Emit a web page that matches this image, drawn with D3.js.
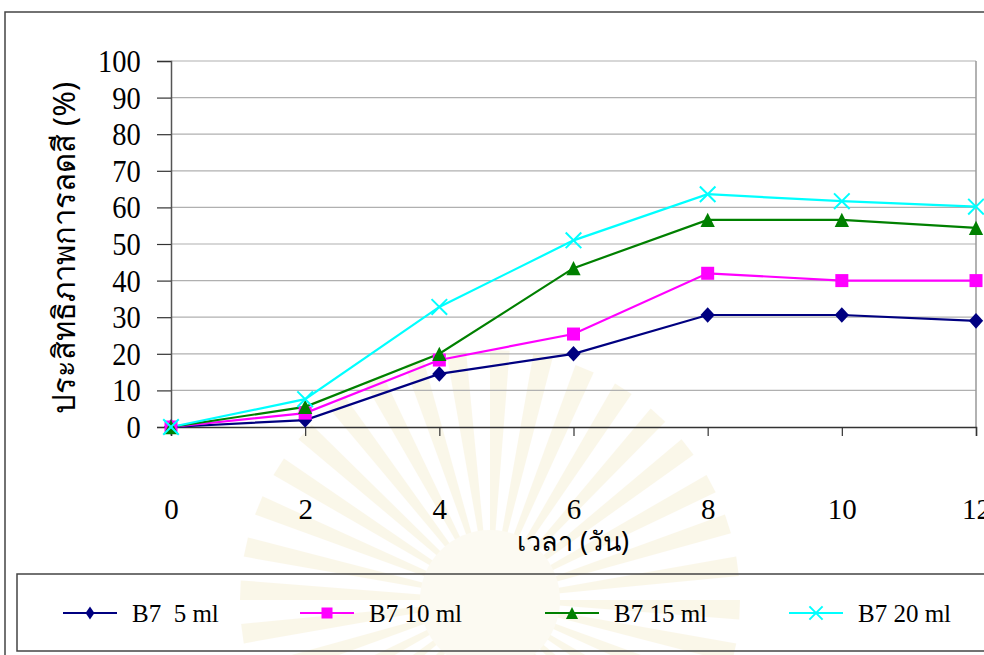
<!DOCTYPE html>
<html>
<head>
<meta charset="utf-8">
<script src="https://cdn.jsdelivr.net/npm/d3@7"></script>
<style>
  html, body { margin: 0; padding: 0; background: #fff; }
  svg { display: block; }
  .tick text { font-family: "Liberation Serif", "Times New Roman", serif; }
</style>
</head>
<body>
<svg id="chart" width="984" height="655"></svg>
<script>
// Decolourisation efficiency over time for four B7 dosages
const days = [0, 2, 4, 6, 8, 10, 12];
const b7_5ml  = [0, 1.9, 14.5, 20.0, 30.6, 30.6, 29.0];
const b7_10ml = [0, 3.8, 18.3, 25.4, 42.0, 40.0, 40.0];
const b7_15ml = [0, 5.5, 20.0, 43.4, 56.6, 56.6, 54.4];
const b7_20ml = [0, 7.6, 32.8, 51.0, 63.6, 61.7, 60.2];
const seriesNames = ["B7  5 ml", "B7 10 ml", "B7 15 ml", "B7 20 ml"];
const yTicks = [0, 10, 20, 30, 40, 50, 60, 70, 80, 90, 100];

const colors = ["#000080", "#ff00ff", "#008000", "#00ffff"];
const shapes = ["diamond", "square", "triangle", "cross"];
const series = [b7_5ml, b7_10ml, b7_15ml, b7_20ml].map((vals, i) => ({
  name: seriesNames[i], color: colors[i], shape: shapes[i],
  points: days.map((d, j) => ({ x: d, y: vals[j] }))
}));

const svg = d3.select("#chart");

// faint emblem in the page background
const emb = svg.append("g").attr("transform", "translate(490,600)").attr("opacity", 0.14);
const rays = d3.range(0, 36);
emb.selectAll("path.ray").data(rays).join("path")
  .attr("d", d => {
    const a0 = -Math.PI + d * Math.PI / 18, a1 = a0 + Math.PI / 40;
    const r0 = 60, r1 = 250;
    return `M${r0*Math.cos(a0)},${r0*Math.sin(a0)}L${r1*Math.cos(a0)},${r1*Math.sin(a0)}L${r1*Math.cos(a1)},${r1*Math.sin(a1)}L${r0*Math.cos(a1)},${r0*Math.sin(a1)}Z`;
  })
  .attr("fill", "#e3c86a");
emb.append("circle").attr("r", 70).attr("fill", "#efe0a8");

// outer frame
svg.append("rect").attr("x", 5).attr("y", 12).attr("width", 1000).attr("height", 700)
  .attr("fill", "none").attr("stroke", "#444").attr("stroke-width", 1.5);

const margin = { left: 171, right: 976, top: 61, bottom: 427 };
const x = d3.scaleLinear().domain([0, 12]).range([margin.left, margin.right]);
const y = d3.scaleLinear().domain([0, 100]).range([margin.bottom, margin.top]);

// gridlines
svg.append("g").selectAll("line").data(yTicks.filter(v => v > 0)).join("line")
  .attr("x1", margin.left).attr("x2", margin.right)
  .attr("y1", d => y(d)).attr("y2", d => y(d))
  .attr("stroke", "#b0b0b0").attr("stroke-width", 1.2);
// plot-area right border
svg.append("line").attr("x1", margin.right).attr("x2", margin.right)
  .attr("y1", margin.top).attr("y2", margin.bottom)
  .attr("stroke", "#999").attr("stroke-width", 1.5);

// y axis
const yAxis = svg.append("g").attr("transform", `translate(${margin.left},0)`)
  .call(d3.axisLeft(y).tickValues(yTicks).tickSize(14).tickPadding(19));
yAxis.select(".domain").attr("stroke", "#555").attr("stroke-width", 1.5);
yAxis.selectAll(".tick line").attr("stroke", "#333").attr("stroke-width", 1.2);
yAxis.selectAll(".tick text").attr("font-size", 31).attr("fill", "#000").attr("dy", "0.34em")
  .attr("transform", "scale(0.92,1)");

// x axis
const xAxis = svg.append("g").attr("transform", `translate(0,${margin.bottom})`)
  .call(d3.axisBottom(x).tickValues(days).tickSize(9).tickPadding(62));
xAxis.select(".domain").attr("stroke", "#333").attr("stroke-width", 1.5);
xAxis.selectAll(".tick line").attr("stroke", "#333").attr("stroke-width", 1.2);
xAxis.selectAll(".tick text").attr("font-size", 29).attr("fill", "#000");

// axis titles
svg.append("text")
  .attr("transform", "translate(75,248) rotate(-90)")
  .attr("text-anchor", "middle")
  .attr("font-family", "'Noto Sans', 'DejaVu Sans', sans-serif")
  .attr("font-size", 31).attr("fill", "#000")
  .text("ประสิทธิภาพการลดสี (%)");
svg.append("text")
  .attr("x", 573).attr("y", 551)
  .attr("text-anchor", "middle")
  .attr("font-family", "'Noto Sans', 'DejaVu Sans', sans-serif")
  .attr("font-size", 27).attr("fill", "#000")
  .text("เวลา (วัน)");

// marker drawing
function marker(g, shape, color, size, legend) {
  if (shape === "diamond") {
    const w = legend ? size * 0.4 : size * 0.55, h = size * 0.6;
    g.append("path").attr("d", `M0,${-h}L${w},0L0,${h}L${-w},0Z`).attr("fill", color);
  } else if (shape === "square") {
    g.append("rect").attr("x", -size / 2).attr("y", -size / 2).attr("width", size).attr("height", size).attr("fill", color);
  } else if (shape === "triangle") {
    const h = size * 0.55;
    g.append("path").attr("d", `M0,${-h}L${h},${h}L${-h},${h}Z`).attr("fill", color);
  } else {
    const h = size * 0.6;
    g.append("path").attr("d", `M${-h},${-h}L${h},${h}M${-h},${h}L${h},${-h}`)
      .attr("stroke", color).attr("stroke-width", 2).attr("fill", "none");
  }
}

const line = d3.line().x(d => x(d.x)).y(d => y(d.y));
const plot = svg.append("g");
series.forEach(s => {
  plot.append("path").datum(s.points).attr("d", line)
    .attr("fill", "none").attr("stroke", s.color).attr("stroke-width", 2.2);
});
series.forEach(s => {
  s.points.forEach(p => {
    const g = plot.append("g").attr("transform", `translate(${x(p.x)},${y(p.y)})`);
    marker(g, s.shape, s.color, 13, false);
  });
});

// legend
svg.append("rect").attr("x", 17).attr("y", 574).attr("width", 1000).attr("height", 77)
  .attr("fill", "none").attr("stroke", "#444").attr("stroke-width", 1.5);
const legendX = [63, 300, 545, 789];
series.forEach((s, i) => {
  const g = svg.append("g").attr("transform", `translate(${legendX[i]},613)`);
  g.append("line").attr("x1", 0).attr("x2", 54).attr("stroke", s.color).attr("stroke-width", 2.2);
  const m = g.append("g").attr("transform", "translate(27,0)");
  marker(m, s.shape, s.color, 11, true);
  g.append("text").attr("x", 69).attr("y", 9)
    .attr("font-family", "'Liberation Serif', 'Times New Roman', serif")
    .attr("font-size", 25).attr("fill", "#000")
    .attr("xml:space", "preserve").style("white-space", "pre")
    .text(s.name);
});
</script>
</body>
</html>
